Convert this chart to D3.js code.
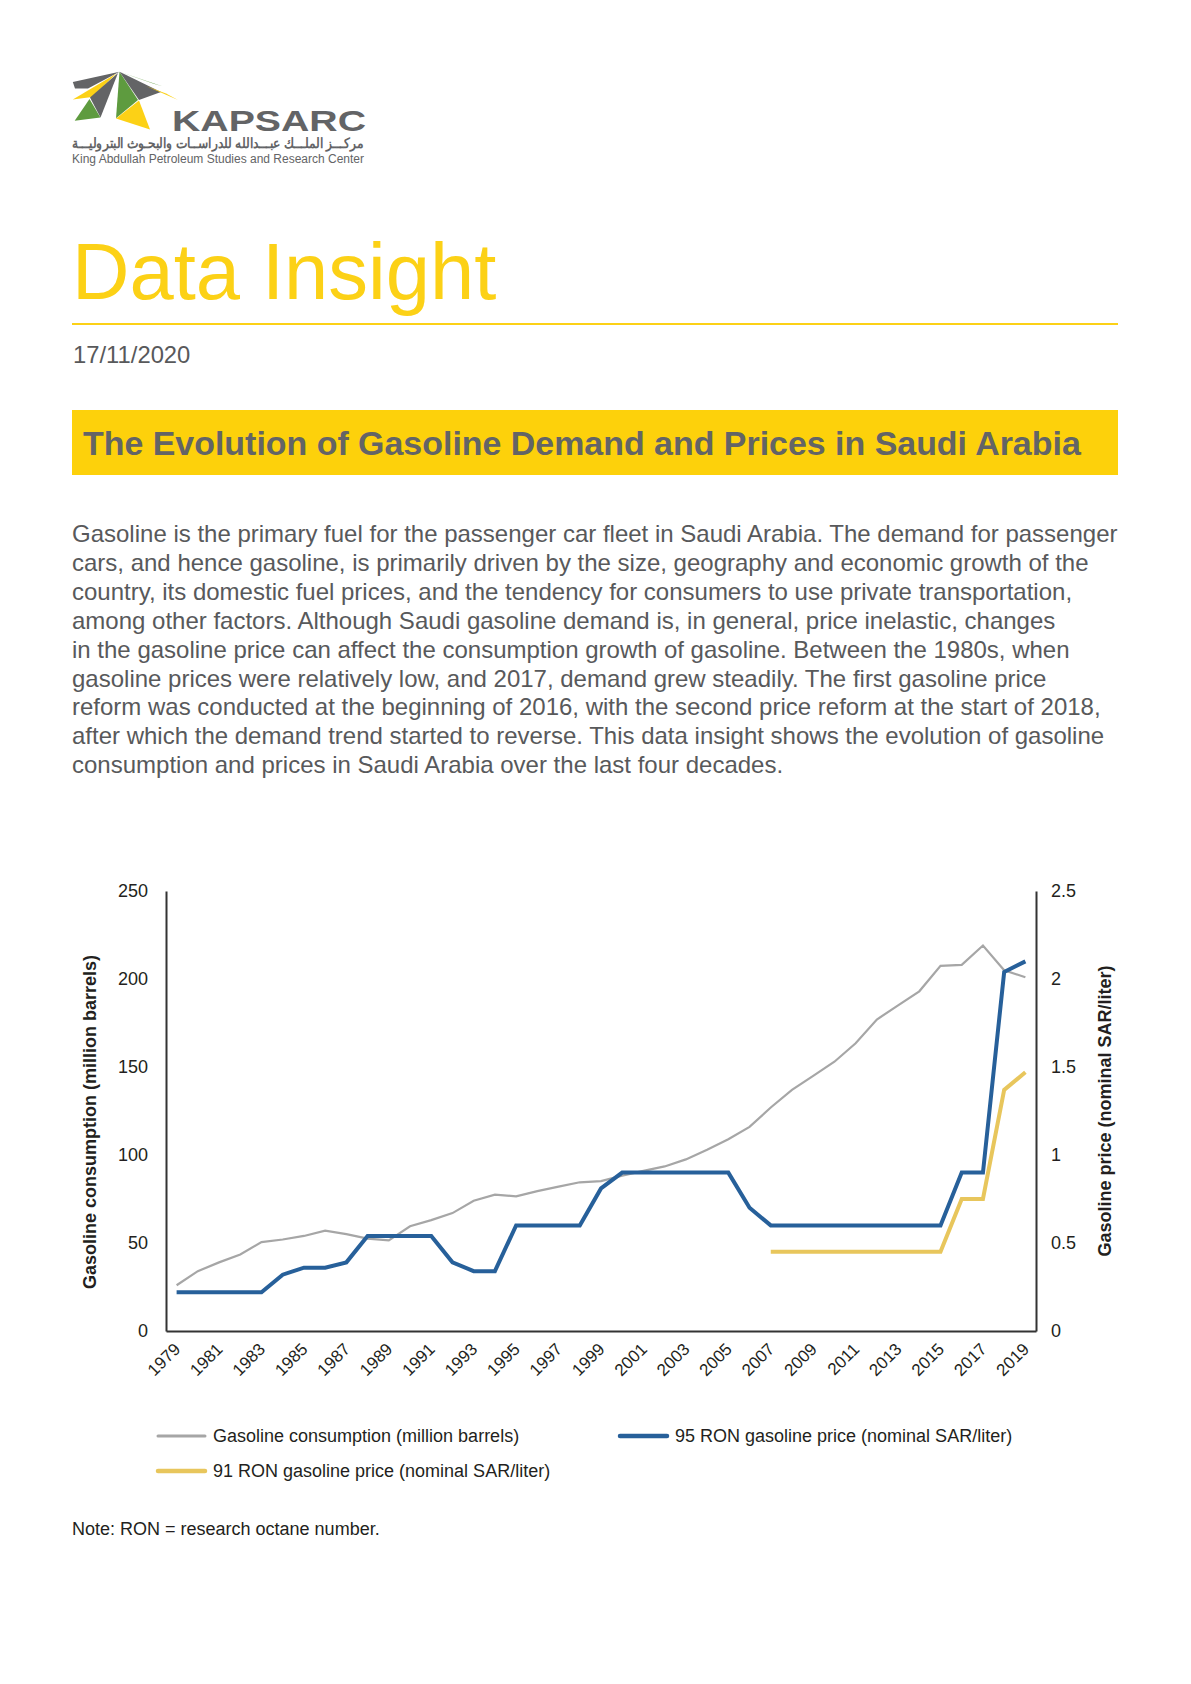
<!DOCTYPE html>
<html><head><meta charset="utf-8">
<script src="https://cdn.jsdelivr.net/npm/d3@7"></script>
<style>
body{margin:0;background:#fff;}
svg{display:block;}
text{font-family:"Liberation Sans",Arial,Helvetica,sans-serif;}
</style>
</head><body>
<svg id="page" width="1191" height="1684"></svg>
<script>
// ---------- DATA ----------
const years = [1979,1980,1981,1982,1983,1984,1985,1986,1987,1988,1989,1990,1991,1992,1993,1994,1995,1996,1997,1998,1999,2000,2001,2002,2003,2004,2005,2006,2007,2008,2009,2010,2011,2012,2013,2014,2015,2016,2017,2018,2019];
const consumption = [26,34,39,43.5,50.5,52,54,57,55,52.5,51.5,59.5,63,67,74,77.5,76.5,79.5,82,84.5,85.2,88.3,91,93.5,97.5,103,109,116,127,137,145,153,163.5,177,185,193,207.5,208,219,205,201];
const price95 = [0.22,0.22,0.22,0.22,0.22,0.32,0.36,0.36,0.39,0.54,0.54,0.54,0.54,0.39,0.34,0.34,0.6,0.6,0.6,0.6,0.81,0.9,0.9,0.9,0.9,0.9,0.9,0.7,0.6,0.6,0.6,0.6,0.6,0.6,0.6,0.6,0.6,0.9,0.9,2.04,2.1];
const price91 = [null,null,null,null,null,null,null,null,null,null,null,null,null,null,null,null,null,null,null,null,null,null,null,null,null,null,null,null,0.45,0.45,0.45,0.45,0.45,0.45,0.45,0.45,0.45,0.75,0.75,1.37,1.47];
const leftTicks = [0,50,100,150,200,250];
const rightTicks = [0,0.5,1,1.5,2,2.5];
const xTickYears = [1979,1981,1983,1985,1987,1989,1991,1993,1995,1997,1999,2001,2003,2005,2007,2009,2011,2013,2015,2017,2019];
const seriesNames = ["Gasoline consumption (million barrels)","95 RON gasoline price (nominal SAR/liter)","91 RON gasoline price (nominal SAR/liter)"];
const leftTitle = "Gasoline consumption (million barrels)";
const rightTitle = "Gasoline price (nominal SAR/liter)";
const bodyLines = [
"Gasoline is the primary fuel for the passenger car fleet in Saudi Arabia. The demand for passenger",
"cars, and hence gasoline, is primarily driven by the size, geography and economic growth of the",
"country, its domestic fuel prices, and the tendency for consumers to use private transportation,",
"among other factors. Although Saudi gasoline demand is, in general, price inelastic, changes",
"in the gasoline price can affect the consumption growth of gasoline. Between the 1980s, when",
"gasoline prices were relatively low, and 2017, demand grew steadily. The first gasoline price",
"reform was conducted at the beginning of 2016, with the second price reform at the start of 2018,",
"after which the demand trend started to reverse. This data insight shows the evolution of gasoline",
"consumption and prices in Saudi Arabia over the last four decades."
];

// ---------- STYLE ----------
const C = {yellow:"#fcd116", gray:"#636466", text:"#58595b", green:"#5e9b3f",
  cons:"#a6a6a6", p95:"#27609a", p91:"#e8c65c", axis:"#333333"};

const svg = d3.select("#page");

function fit(sel, target){
  const w = sel.node().getComputedTextLength();
  const fs = parseFloat(sel.attr("font-size"));
  sel.attr("font-size", fs*target/w);
  return fs*target/w;
}

// ---------- LOGO ----------
const logo = svg.append("g");
const shapes = [
  {c:C.gray,   p:[[72.8,82],[119.5,71.7],[88,88.5],[75,88.5]]},
  {c:C.yellow, p:[[72.8,99.5],[116.5,73.5],[92,97]]},
  {c:C.gray,   p:[[90,97.5],[118,73],[100.5,117.5]]},
  {c:C.green,  p:[[74.7,120.7],[89.5,99],[100.4,117.5]]},
  {c:C.green,  p:[[119.5,71.7],[116,118.3],[138,100]]},
  {c:C.yellow, p:[[116,118.5],[139,100.5],[150,129.5]]},
  {c:C.gray,   p:[[119.5,71.7],[161,92],[139,100]]},
  {c:C.green,  p:[[119.5,71.7],[163,86.5],[153,83.5]]},
  {c:C.yellow, p:[[146,86],[178,100],[166,93.5]]}
];
logo.selectAll("polygon").data(shapes).join("polygon")
  .attr("points", d=>d.p.map(q=>q.join(",")).join(" "))
  .attr("fill", d=>d.c);
logo.append("text").attr("x",172).attr("y",130.5).attr("font-size",30)
  .attr("font-family","Lato, 'DejaVu Sans', sans-serif").attr("font-weight",700)
  .attr("fill",C.gray).attr("textLength",194).attr("lengthAdjust","spacingAndGlyphs").text("KAPSARC");
logo.append("text").attr("x",72).attr("y",148).attr("font-size",13.5)
  .attr("font-family","'DejaVu Sans', sans-serif").attr("font-weight",700)
  .attr("fill",C.gray).attr("textLength",292).attr("lengthAdjust","spacingAndGlyphs")
  .text("مركـــز الملـــك عبـــدالله للدراســات والبحـوث البتروليـــة");
logo.append("text").attr("x",72).attr("y",163).attr("font-size",12)
  .attr("font-family","Lato, 'Open Sans', sans-serif")
  .attr("fill",C.gray).attr("textLength",292).attr("lengthAdjust","spacingAndGlyphs")
  .text("King Abdullah Petroleum Studies and Research Center");

// ---------- HEADER ----------
svg.append("text").attr("x",72).attr("y",299).attr("font-size",79.5).attr("fill",C.yellow).text("Data Insight");
svg.append("line").attr("x1",72).attr("x2",1118).attr("y1",324).attr("y2",324).attr("stroke",C.yellow).attr("stroke-width",2);
svg.append("text").attr("x",73).attr("y",363).attr("font-size",23.8).attr("fill",C.text).text("17/11/2020");

svg.append("rect").attr("x",72).attr("y",410).attr("width",1046).attr("height",65).attr("fill","#fdd10b");
const title = svg.append("text").attr("x",83).attr("y",455).attr("font-size",32).attr("font-weight",700)
  .attr("fill",C.gray).text("The Evolution of Gasoline Demand and Prices in Saudi Arabia");
fit(title, 998);

// ---------- BODY ----------
const body = svg.append("g");
const bl = body.selectAll("text").data(bodyLines).join("text")
  .attr("x",72).attr("y",(d,i)=>542+i*28.9).attr("font-size",21.5).attr("fill",C.text).text(d=>d);
const fs0 = fit(d3.select(bl.nodes()[0]), 1046);
bl.attr("font-size", fs0);

// ---------- CHART ----------
const x = d3.scalePoint().domain(years).range([166,1036]).padding(0.5);
const yL = d3.scaleLinear().domain([0,250]).range([1331,891]);
const yR = d3.scaleLinear().domain([0,2.5]).range([1331,891]);

const gL = svg.append("g").attr("transform","translate(166,0)")
  .call(d3.axisLeft(yL).tickValues(leftTicks).tickSize(0).tickPadding(18));
const gR = svg.append("g").attr("transform","translate(1036,0)")
  .call(d3.axisRight(yR).tickValues(rightTicks).tickSize(0).tickPadding(15).tickFormat(d3.format("~g")));
const gB = svg.append("g").attr("transform","translate(0,1331)")
  .call(d3.axisBottom(x).tickValues(xTickYears).tickSize(0).tickSizeOuter(0));
[gL,gR,gB].forEach(g=>{
  g.select(".domain").attr("stroke",C.axis).attr("stroke-width",2);
  g.selectAll("text").attr("font-size",18).attr("fill","#231f20").attr("font-family",'"Liberation Sans",Arial,sans-serif');
});
gB.selectAll(".tick text").attr("font-size",17).attr("text-anchor","end")
  .attr("x",0).attr("y",0).attr("dy","0.35em")
  .attr("transform","translate(0,15) rotate(-45)");

svg.append("text").attr("transform","translate(96,1122) rotate(-90)").attr("text-anchor","middle")
  .attr("font-size",18).attr("font-weight",700).attr("fill","#231f20").text(leftTitle);
svg.append("text").attr("transform","translate(1111,1111) rotate(-90)").attr("text-anchor","middle")
  .attr("font-size",18).attr("font-weight",700).attr("fill","#231f20").text(rightTitle);

const lineL = d3.line().x((d,i)=>x(years[i])).y(d=>yL(d));
const lineR = d3.line().defined(d=>d!==null).x((d,i)=>x(years[i])).y(d=>yR(d));
svg.append("path").datum(consumption).attr("d",lineL).attr("fill","none").attr("stroke",C.cons).attr("stroke-width",2.2);
svg.append("path").datum(price91).attr("d",lineR).attr("fill","none").attr("stroke",C.p91).attr("stroke-width",4);
svg.append("path").datum(price95).attr("d",lineR).attr("fill","none").attr("stroke",C.p95).attr("stroke-width",4);

// ---------- LEGEND ----------
const legendItems = [
  {name:seriesNames[0], c:C.cons, w:3, x:158, y:1436},
  {name:seriesNames[1], c:C.p95, w:4.5, x:620, y:1436},
  {name:seriesNames[2], c:C.p91, w:4.5, x:158, y:1471}
];
const lg = svg.append("g").selectAll("g").data(legendItems).join("g")
  .attr("transform",d=>`translate(${d.x},${d.y})`);
lg.append("line").attr("x1",0).attr("x2",47).attr("stroke",d=>d.c).attr("stroke-width",d=>d.w).attr("stroke-linecap","round");
lg.append("text").attr("x",55).attr("dy","0.35em").attr("font-size",18).attr("fill","#231f20").text(d=>d.name);

svg.append("text").attr("x",72).attr("y",1535).attr("font-size",18).attr("fill","#231f20").text("Note: RON = research octane number.");
</script>
</body></html>
